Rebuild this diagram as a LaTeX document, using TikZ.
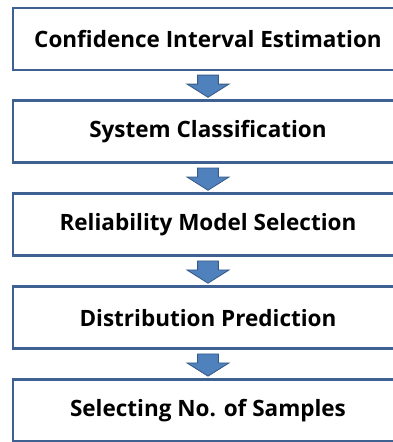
\documentclass[tikz,border=0pt]{standalone}
\usepackage{fontspec}
\setmainfont{Open Sans}
\usepackage{tikz}
\usetikzlibrary{positioning, calc}
\definecolor{boxblue}{RGB}{62,97,145}
\definecolor{arrowfill}{RGB}{79,129,189}
\definecolor{arrowline}{RGB}{56,90,135}

\tikzset{
  stage/.style={draw=boxblue, line width=2.1pt, fill=white, minimum width=9.75cm,
    minimum height=1.55cm, inner sep=0pt, font=\bfseries\fontsize{16}{18}\selectfont},
  blockarrow/.style={draw=arrowline, fill=arrowfill, line width=0.6pt, line join=miter}
}

\begin{document}
\begin{tikzpicture}
\useasboundingbox (0,0) rectangle (9.825,-11.05);
\begin{scope}
\clip (0,0) rectangle (9.825,-11.05);
\node[stage] (ci) at (5.2,-0.975) {Confidence Interval Estimation};
\node[stage, below=0.7cm of ci] (sc) {System Classification};
\node[stage, below=0.7cm of sc] (rm) {Reliability Model Selection};
\node[stage, below=0.7cm of rm] (dp) {Distribution Prediction};
\node[stage, below=0.7cm of dp] (ns) {Selecting No. of Samples};
% block arrows between the stages
\foreach \a in {ci, sc, rm, dp}
  \draw[blockarrow] ($(\a.south)+(-0.26,-0.09)$) -- ++(0.52,0) -- ++(0,-0.225)
    -- ++(0.265,0) -- ++(-0.525,-0.33) -- ++(-0.525,0.33) -- ++(0.265,0) -- cycle;
\end{scope}
\end{tikzpicture}
\end{document}
